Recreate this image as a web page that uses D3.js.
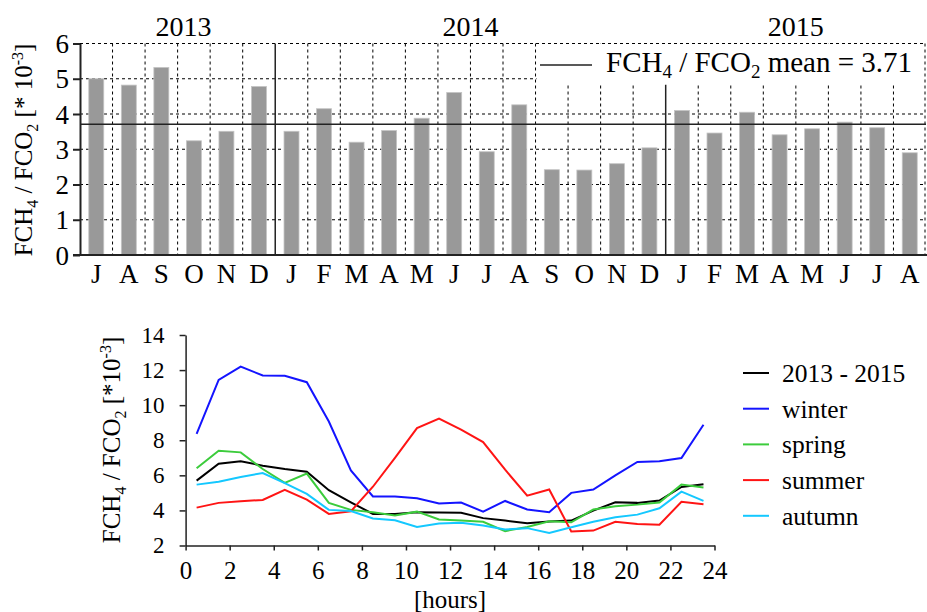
<!DOCTYPE html>
<html lang="en">

<head>
    <meta charset="UTF-8">
    <title>FCH4 / FCO2</title>
    <script src="https://d3js.org/d3.v7.min.js"></script>
    <style>
        body { margin: 0; background: white; }
        text { font-family: "Liberation Serif", "Times New Roman", serif; fill: black; }
    </style>
</head>

<body>
    <script>
        // monthly ratio, Jul 2013 - Aug 2015
        var months = ["J", "A", "S", "O", "N", "D", "J", "F", "M", "A", "M", "J", "J", "A", "S", "O", "N", "D", "J", "F", "M", "A", "M", "J", "J", "A"];
        var ratioMonthly = [5.00, 4.82, 5.32, 3.24, 3.51, 4.78, 3.51, 4.15, 3.20, 3.53, 3.88, 4.61, 2.93, 4.26, 2.42, 2.41, 2.59, 3.04, 4.10, 3.46, 4.05, 3.41, 3.58, 3.77, 3.61, 2.90];
        var yearLabels = ["2013", "2014", "2015"];
        var monthsPerYear = [6, 12, 8];
        var meanRatio = 3.71;

        // diurnal course
        var hours = [0.5, 1.5, 2.5, 3.5, 4.5, 5.5, 6.5, 7.5, 8.5, 9.5, 10.5, 11.5, 12.5, 13.5, 14.5, 15.5, 16.5, 17.5, 18.5, 19.5, 20.5, 21.5, 22.5, 23.5];
        var allYears = [5.70, 6.66, 6.80, 6.55, 6.36, 6.21, 5.15, 4.46, 3.80, 3.80, 3.89, 3.88, 3.86, 3.56, 3.42, 3.27, 3.37, 3.42, 3.99, 4.46, 4.43, 4.56, 5.34, 5.49];
        var winter = [8.37, 11.44, 12.20, 11.69, 11.67, 11.31, 9.07, 6.28, 4.80, 4.79, 4.69, 4.39, 4.45, 3.93, 4.54, 4.05, 3.90, 5.00, 5.19, 6.00, 6.76, 6.80, 6.99, 8.88];
        var spring = [6.40, 7.40, 7.31, 6.36, 5.57, 6.10, 4.43, 4.03, 3.89, 3.71, 3.93, 3.48, 3.42, 3.35, 2.82, 3.06, 3.38, 3.32, 4.05, 4.24, 4.33, 4.45, 5.47, 5.30];
        var summer = [4.16, 4.43, 4.52, 4.60, 5.17, 4.62, 3.80, 3.95, 5.35, 7.00, 8.69, 9.24, 8.60, 7.90, 6.32, 4.84, 5.19, 2.80, 2.85, 3.35, 3.23, 3.18, 4.49, 4.35];
        var autumn = [5.47, 5.64, 5.91, 6.13, 5.56, 4.94, 4.03, 3.97, 3.54, 3.44, 3.06, 3.25, 3.29, 3.14, 2.91, 2.99, 2.72, 3.04, 3.35, 3.61, 3.76, 4.12, 5.07, 4.54];
        var seriesNames = ["2013 - 2015", "winter", "spring", "summer", "autumn"];
        var seriesValues = [allYears, winter, spring, summer, autumn];
        var seriesColors = ["#000000", "#1414ff", "#3ccc3c", "#ff1414", "#14c8ff"];

        var width = 927;
        var height = 612;

        var svg = d3.select("body")
            .append("svg")
            .attr("width", width)
            .attr("height", height);

        // ---------- top: monthly bars ----------
        var m1 = { left: 80, right: 926, top: 43.5, bottom: 255 };

        var x = d3.scaleBand()
            .domain(d3.range(months.length))
            .range([m1.left, m1.right]);
        var y = d3.scaleLinear().domain([0, 6]).range([m1.bottom, m1.top]);

        var g1 = svg.append("g");

        // year boundaries (in slot index)
        var yearStart = [0];
        monthsPerYear.forEach(function (n, i) { yearStart.push(yearStart[i] + n); });

        // dashed grid
        var vLines = d3.range(1, months.length + 1).filter(function (i) {
            return yearStart.indexOf(i) < 0 || i == months.length;
        });
        g1.selectAll("line.vgrid")
            .data(vLines)
            .enter()
            .append("line")
            .attr("class", "vgrid")
            .attr("x1", function (d) { return d == months.length ? m1.right - 1 : x(d); })
            .attr("x2", function (d) { return d == months.length ? m1.right - 1 : x(d); })
            .attr("y1", m1.top)
            .attr("y2", m1.bottom)
            .style("stroke", "black")
            .style("stroke-width", 1)
            .style("stroke-dasharray", "3,3");
        g1.selectAll("line.hgrid")
            .data([1, 2, 3, 4, 5])
            .enter()
            .append("line")
            .attr("class", "hgrid")
            .attr("x1", m1.left)
            .attr("x2", m1.right)
            .attr("y1", function (d) { return y(d); })
            .attr("y2", function (d) { return y(d); })
            .style("stroke", "black")
            .style("stroke-width", 1)
            .style("stroke-dasharray", "3,3");

        // bars
        g1.selectAll("rect.bar")
            .data(ratioMonthly)
            .enter()
            .append("rect")
            .attr("class", "bar")
            .attr("x", function (d, i) { return x(i) + x.bandwidth() * 0.27; })
            .attr("width", x.bandwidth() * 0.46)
            .attr("y", function (d) { return y(d); })
            .attr("height", function (d) { return y(0) - y(d); })
            .style("fill", "#999999")
            .style("stroke", "#c4c4c4")
            .style("stroke-width", 0.8);

        // legend box covers the grid
        var boxLeft = x(14) + 1;
        var boxBottom = y(5) + 6;
        g1.append("rect")
            .attr("x", boxLeft)
            .attr("y", m1.top)
            .attr("width", m1.right - 2 - boxLeft)
            .attr("height", boxBottom - m1.top)
            .style("fill", "white");

        // top border dashed
        g1.append("line")
            .attr("x1", m1.left).attr("x2", m1.right)
            .attr("y1", m1.top).attr("y2", m1.top)
            .style("stroke", "black")
            .style("stroke-dasharray", "3,3");

        // mean line
        g1.append("line")
            .attr("x1", m1.left).attr("x2", m1.right)
            .attr("y1", y(meanRatio)).attr("y2", y(meanRatio))
            .style("stroke", "#222")
            .style("stroke-width", 1.5);

        // year dividers
        g1.selectAll("line.year")
            .data(yearStart.slice(1, -1))
            .enter()
            .append("line")
            .attr("class", "year")
            .attr("x1", function (d) { return x(d); })
            .attr("x2", function (d) { return x(d); })
            .attr("y1", function (d) { return x(d) > boxLeft ? boxBottom : m1.top; })
            .attr("y2", m1.bottom)
            .style("stroke", "#222")
            .style("stroke-width", 1.5);

        // year labels
        g1.selectAll("text.year")
            .data(yearLabels)
            .enter()
            .append("text")
            .attr("class", "year")
            .attr("x", function (d, i) {
                var a = x(yearStart[i]);
                var b = yearStart[i + 1] < months.length ? x(yearStart[i + 1]) : m1.right;
                return (a + b) / 2 + (i == 0 ? 6 : 0);
            })
            .attr("y", 36)
            .attr("text-anchor", "middle")
            .style("font-size", "28px")
            .text(function (d) { return d; });

        // axes
        var yAxis1 = g1.append("g")
            .attr("transform", "translate(" + m1.left + ",0)")
            .call(d3.axisLeft(y).ticks(6).tickSize(7).tickSizeOuter(0).tickPadding(4));
        yAxis1.selectAll("path, line").style("stroke", "#222").style("stroke-width", 2);
        yAxis1.selectAll("text").style("font-size", "27px").attr("dy", "0.34em");

        var xAxis1 = g1.append("g")
            .attr("transform", "translate(0," + m1.bottom + ")")
            .call(d3.axisBottom(x).tickSize(0).tickPadding(9).tickFormat(function (i) { return months[i]; }));
        xAxis1.select("path").remove();
        xAxis1.selectAll("text").style("font-size", "27px");
        g1.append("line")
            .attr("x1", m1.left - 7).attr("x2", width)
            .attr("y1", m1.bottom).attr("y2", m1.bottom)
            .style("stroke", "#222").style("stroke-width", 2);

        // y label
        var lab1 = g1.append("text")
            .attr("transform", "translate(32," + 150 + ") rotate(-90)")
            .attr("text-anchor", "middle")
            .style("font-size", "25px");
        lab1.append("tspan").text("FCH");
        lab1.append("tspan").attr("dy", 6).style("font-size", "16px").text("4");
        lab1.append("tspan").attr("dy", -6).text(" / FCO");
        lab1.append("tspan").attr("dy", 6).style("font-size", "16px").text("2");
        lab1.append("tspan").attr("dy", -6).text(" [* 10");
        lab1.append("tspan").attr("dy", -9).style("font-size", "16px").text("-3");
        lab1.append("tspan").attr("dy", 9).text("]");

        // legend
        g1.append("line")
            .attr("x1", 540).attr("x2", 592)
            .attr("y1", 65).attr("y2", 65)
            .style("stroke", "#222").style("stroke-width", 1.5);
        var leg1 = g1.append("text")
            .attr("x", 606).attr("y", 72)
            .style("font-size", "29px");
        leg1.append("tspan").text("FCH");
        leg1.append("tspan").attr("dy", 6).style("font-size", "19px").text("4");
        leg1.append("tspan").attr("dy", -6).text(" / FCO");
        leg1.append("tspan").attr("dy", 6).style("font-size", "19px").text("2");
        leg1.append("tspan").attr("dy", -6).text(" mean = " + meanRatio);

        // ---------- bottom: diurnal lines ----------
        var m2 = { left: 185.6, right: 714.5, top: 335, bottom: 545.5 };
        var xh = d3.scaleLinear().domain([0, 24]).range([m2.left, m2.right]);
        var yh = d3.scaleLinear().domain([2, 14]).range([m2.bottom, m2.top]);

        var g2 = svg.append("g");

        var xAxis2 = g2.append("g")
            .attr("transform", "translate(0," + m2.bottom + ")")
            .call(d3.axisBottom(xh).tickValues(d3.range(0, 25, 2)).tickSize(5).tickSizeOuter(0).tickPadding(11));
        xAxis2.selectAll("path, line").style("stroke", "#222").style("stroke-width", 1.5);
        xAxis2.selectAll("text").style("font-size", "25px");

        var yAxis2 = g2.append("g")
            .attr("transform", "translate(" + m2.left + ",0)")
            .call(d3.axisLeft(yh).tickValues(d3.range(2, 15, 2)).tickSize(6).tickSizeOuter(0).tickPadding(15));
        yAxis2.selectAll("path, line").style("stroke", "#222").style("stroke-width", 1.5);
        yAxis2.selectAll("text").style("font-size", "23px");

        var line = d3.line()
            .x(function (d, i) { return xh(hours[i]); })
            .y(function (d) { return yh(d); });

        g2.selectAll("path.series")
            .data(seriesValues)
            .enter()
            .append("path")
            .attr("class", "series")
            .attr("d", line)
            .style("fill", "none")
            .style("stroke", function (d, i) { return seriesColors[i]; })
            .style("stroke-width", 2);

        g2.append("text")
            .attr("x", (m2.left + m2.right) / 2)
            .attr("y", 608)
            .attr("text-anchor", "middle")
            .style("font-size", "25px")
            .text("[hours]");

        var lab2 = g2.append("text")
            .attr("transform", "translate(120," + 440 + ") rotate(-90)")
            .attr("text-anchor", "middle")
            .style("font-size", "25px");
        lab2.append("tspan").text("FCH");
        lab2.append("tspan").attr("dy", 6).style("font-size", "16px").text("4");
        lab2.append("tspan").attr("dy", -6).text(" / FCO");
        lab2.append("tspan").attr("dy", 6).style("font-size", "16px").text("2");
        lab2.append("tspan").attr("dy", -6).text(" [*10");
        lab2.append("tspan").attr("dy", -9).style("font-size", "16px").text("-3");
        lab2.append("tspan").attr("dy", 9).text("]");

        var legend = g2.selectAll("g.legend")
            .data(seriesNames)
            .enter()
            .append("g")
            .attr("class", "legend")
            .attr("transform", function (d, i) { return "translate(743," + (373 + i * 35.7) + ")"; });
        legend.append("line")
            .attr("x1", 0).attr("x2", 26)
            .style("stroke", function (d, i) { return seriesColors[i]; })
            .style("stroke-width", 2);
        legend.append("text")
            .attr("x", 39).attr("y", 9)
            .style("font-size", "25.5px")
            .text(function (d) { return d; });
    </script>
</body>

</html>
